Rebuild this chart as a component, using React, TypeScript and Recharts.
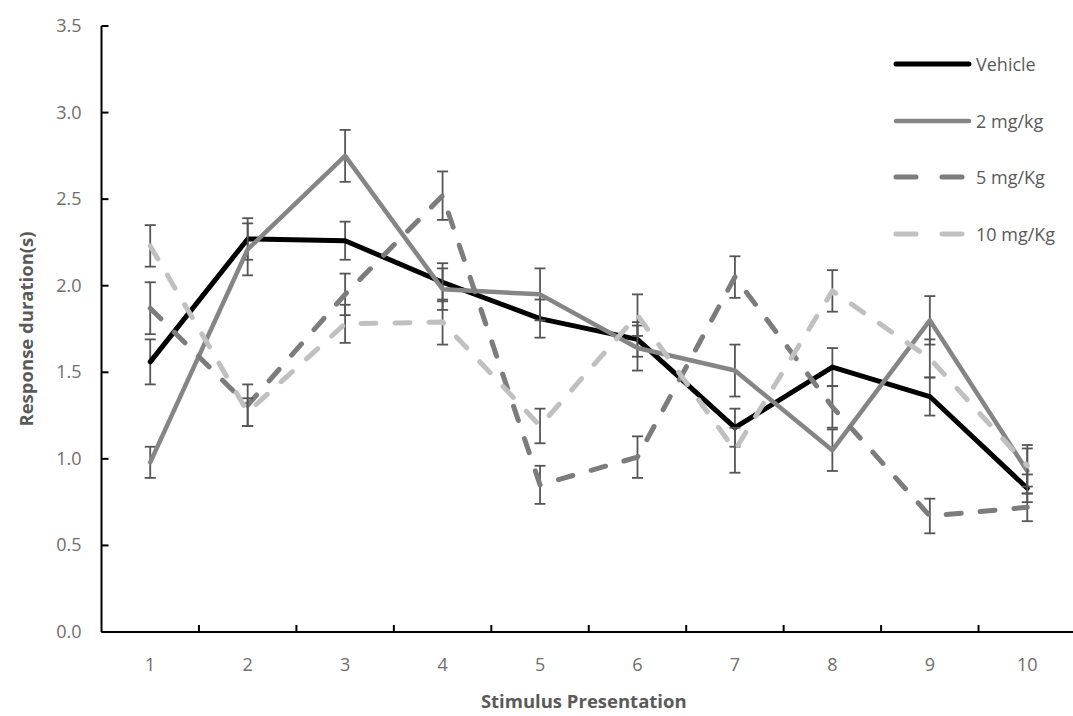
import React from 'react';
import { LineChart, Line, XAxis, YAxis, ErrorBar, Legend, Label } from 'recharts';

// stimulus presentation number (x) and mean response duration per group
const stimulus = [1, 2, 3, 4, 5, 6, 7, 8, 9, 10];
const yTicks = [0, 0.5, 1, 1.5, 2, 2.5, 3, 3.5];

const vehicle = [1.56, 2.27, 2.26, 2.02, 1.81, 1.69, 1.18, 1.53, 1.36, 0.83];
const vehicleErr = [0.13, 0.12, 0.11, 0.11, 0.11, 0.1, 0.11, 0.11, 0.11, 0.08];

const mg2 = [0.98, 2.21, 2.75, 1.98, 1.95, 1.64, 1.51, 1.05, 1.8, 0.93];
const mg2Err = [0.09, 0.15, 0.15, 0.12, 0.15, 0.13, 0.15, 0.12, 0.14, 0.13];

const mg5 = [1.87, 1.31, 1.95, 2.52, 0.85, 1.01, 2.05, 1.3, 0.67, 0.72];
const mg5Err = [0.15, 0.12, 0.12, 0.14, 0.11, 0.12, 0.12, 0.12, 0.1, 0.08];

const mg10 = [2.23, 1.27, 1.78, 1.79, 1.19, 1.83, 1.05, 1.97, 1.58, 0.96];
const mg10Err = [0.12, 0.08, 0.11, 0.13, 0.1, 0.12, 0.13, 0.12, 0.11, 0.12];

const data = stimulus.map((s, i) => ({
  x: s,
  vehicle: vehicle[i],
  vehicleErr: vehicleErr[i],
  mg2: mg2[i],
  mg2Err: mg2Err[i],
  mg5: mg5[i],
  mg5Err: mg5Err[i],
  mg10: mg10[i],
  mg10Err: mg10Err[i],
}));

// labels on the integers, tick marks between categories
const xTicks: number[] = [];
stimulus.forEach((s, i) => {
  xTicks.push(s);
  if (i < stimulus.length - 1) xTicks.push(s + 0.5);
});

const FONT = '"Open Sans", sans-serif';
const TEXT = '#6e6e6e';
const TITLE = '#5a5a5a';
const ERR = '#555555';

const series = [
  { key: 'vehicle', name: 'Vehicle', color: '#000000', width: 5, dash: undefined },
  { key: 'mg2', name: '2 mg/kg', color: '#858585', width: 4.5, dash: undefined },
  { key: 'mg5', name: '5 mg/Kg', color: '#7c7c7c', width: 5, dash: '15 19' },
  { key: 'mg10', name: '10 mg/Kg', color: '#c0c0c0', width: 5, dash: '15 19' },
];

const XTick = (props: any) => {
  const { x, y, payload } = props;
  const v = payload.value;
  if (Number.isInteger(v)) {
    return (
      <text x={x} y={y + 39} textAnchor="middle" fill={TEXT} fontSize={18} fontFamily={FONT}>
        {v}
      </text>
    );
  }
  return <line x1={x} y1={y} x2={x} y2={y - 7} stroke="#000" strokeWidth={2} />;
};

const YTick = (props: any) => {
  const { x, y, payload } = props;
  return (
    <g>
      <line x1={x} y1={y} x2={x + 7} y2={y} stroke="#000" strokeWidth={2} />
      <text x={x - 20} y={y + 6} textAnchor="end" fill={TEXT} fontSize={18} fontFamily={FONT}>
        {payload.value.toFixed(1)}
      </text>
    </g>
  );
};

const LegendBox = () => (
  <div style={{ fontFamily: FONT }}>
    {series.map((s) => (
      <div key={s.key} style={{ display: 'flex', alignItems: 'center', height: 56.5 }}>
        <svg width={84} height={12}>
          <line
            x1={4}
            y1={6}
            x2={77}
            y2={6}
            stroke={s.color}
            strokeWidth={s.width}
            strokeLinecap="round"
            strokeDasharray={s.dash ? '20 26' : undefined}
          />
        </svg>
        <span style={{ color: TITLE, fontSize: 18 }}>{s.name}</span>
      </div>
    ))}
  </div>
);

export default function App() {
  return (
    <div style={{ position: 'absolute', left: 0, top: 0, width: 1073, height: 716, overflow: 'hidden', background: '#fff' }}>
      <LineChart width={1076} height={716} data={data} margin={{ top: 26, right: 0, bottom: 34, left: 0 }}>
        <XAxis
          dataKey="x"
          type="number"
          domain={[0.5, 10.5]}
          ticks={xTicks}
          interval={0}
          tick={<XTick />}
          tickLine={false}
          tickSize={0}
          tickMargin={0}
          height={50}
          axisLine={{ stroke: '#000', strokeWidth: 2 }}
        >
          <Label
            content={(p: any) => {
              const vb = p.viewBox;
              return (
                <text
                  x={vb.x + vb.width / 2 - 5}
                  y={vb.y + 76}
                  textAnchor="middle"
                  fill={TITLE}
                  fontSize={18.5}
                  fontWeight="bold"
                  fontFamily={FONT}
                >
                  Stimulus Presentation
                </text>
              );
            }}
          />
        </XAxis>
        <YAxis
          type="number"
          domain={[0, 3.5]}
          ticks={yTicks}
          interval={0}
          tick={<YTick />}
          tickLine={false}
          tickSize={0}
          tickMargin={0}
          width={101.5}
          axisLine={{ stroke: '#000', strokeWidth: 2 }}
        >
          <Label
            content={(p: any) => {
              const vb = p.viewBox;
              const cx = 25;
              const cy = vb.y + vb.height / 2;
              return (
                <text
                  x={cx}
                  y={cy}
                  transform={`rotate(-90 ${cx} ${cy})`}
                  textAnchor="middle"
                  dominantBaseline="central"
                  fill={TITLE}
                  fontSize={18.5}
                  fontWeight="bold"
                  fontFamily={FONT}
                >
                  Response duration(s)
                </text>
              );
            }}
          />
        </YAxis>
        {series.map((s) => (
          <Line
            key={s.key}
            dataKey={s.key}
            name={s.name}
            type="linear"
            stroke={s.color}
            strokeWidth={s.width}
            strokeDasharray={s.dash}
            strokeLinecap="round"
            strokeLinejoin="round"
            dot={false}
            activeDot={false}
            isAnimationActive={false}
          >
            <ErrorBar dataKey={`${s.key}Err`} direction="y" width={5.5} stroke={ERR} strokeWidth={1.8} />
          </Line>
        ))}
        <Legend
          content={<LegendBox />}
          layout="vertical"
          verticalAlign="middle"
          align="center"
          wrapperStyle={{ position: 'absolute', top: 36, left: 892, width: 180 }}
        />
      </LineChart>
    </div>
  );
}
